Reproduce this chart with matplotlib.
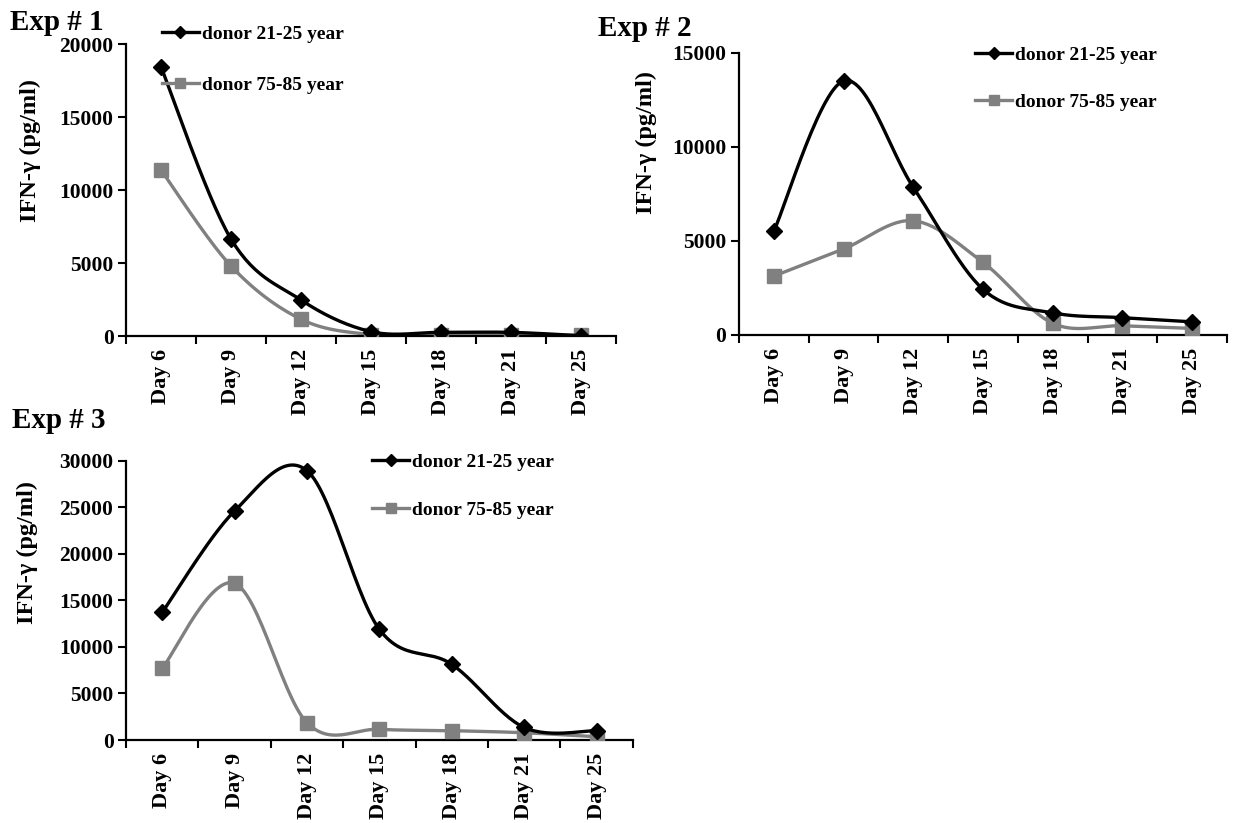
import numpy as np
import matplotlib
matplotlib.use("Agg")
import matplotlib.pyplot as plt

plt.rcParams['font.family'] = ['Liberation Serif', 'DejaVu Serif']
plt.rcParams['font.weight'] = 'bold'

days = ["Day 6", "Day 9", "Day 12", "Day 15", "Day 18", "Day 21", "Day 25"]

# IFN-gamma (pg/ml) per experiment
exp1_young = [18450, 6650, 2470, 300, 250, 250, 20]
exp1_old = [11380, 4800, 1150, 100, 100, 60, 40]

exp2_young = [5520, 13500, 7850, 2430, 1180, 920, 700]
exp2_old = [3130, 4570, 6070, 3860, 620, 490, 350]

exp3_young = [13710, 24600, 28930, 11890, 8130, 1350, 1000]
exp3_old = [7700, 16830, 1860, 1150, 1000, 780, 350]

young_label = "donor 21-25 year"
old_label = "donor 75-85 year"


def smooth_curve(y, steps=30):
    """Excel-style smoothed line: cubic Bezier segments through every point."""
    y = np.asarray(y, dtype=float)
    x = np.arange(len(y), dtype=float)
    px = np.concatenate([[x[0]], x, [x[-1]]])
    py = np.concatenate([[y[0]], y, [y[-1]]])
    t = np.linspace(0, 1, steps)
    xs, ys = [], []
    for i in range(len(y) - 1):
        p0x, p0y = px[i + 1], py[i + 1]
        p3x, p3y = px[i + 2], py[i + 2]
        c1x = p0x + (p3x - px[i]) / 6.0
        c1y = p0y + (p3y - py[i]) / 6.0
        c2x = p3x - (px[i + 3] - p0x) / 6.0
        c2y = p3y - (py[i + 3] - p0y) / 6.0
        b0 = (1 - t) ** 3
        b1 = 3 * (1 - t) ** 2 * t
        b2 = 3 * (1 - t) * t ** 2
        b3 = t ** 3
        xs.append(b0 * p0x + b1 * c1x + b2 * c2x + b3 * p3x)
        ys.append(b0 * p0y + b1 * c1y + b2 * c2y + b3 * p3y)
    return np.concatenate(xs), np.concatenate(ys)


def draw_panel(ax, young, old, ymax, step, legend_xy, spacing=1.55):
    x = np.arange(len(days))
    gray = "#808080"

    sx, sy = smooth_curve(old)
    ax.plot(sx, sy, color=gray, lw=2.4, zorder=2)
    ax.plot(x, old, ls="none", marker="s", ms=9.5, color=gray, zorder=3)
    sx, sy = smooth_curve(young)
    ax.plot(sx, sy, color="black", lw=2.4, zorder=4)
    ax.plot(x, young, ls="none", marker="D", ms=8, color="black", zorder=5)

    # legend proxies
    h1, = ax.plot([], [], color="black", lw=2.4, marker="D", ms=6.5)
    h2, = ax.plot([], [], color=gray, lw=2.4, marker="s", ms=7.5)
    ax.legend([h1, h2], [young_label, old_label], loc="upper left",
              bbox_to_anchor=legend_xy, frameon=False,
              handlelength=1.9, handletextpad=0.15, labelspacing=spacing,
              borderpad=0, borderaxespad=0, prop={'weight': 'bold', 'size': 14})

    ax.set_xlim(-0.5, len(days) - 0.5)
    ax.set_ylim(0, ymax)
    ax.set_yticks(np.arange(0, ymax + 1, step))
    ax.set_yticklabels([str(v) for v in np.arange(0, ymax + 1, step)])
    ax.set_xticks(x)
    ax.set_xticklabels(days, rotation=90)
    ax.set_xticks(np.arange(-0.5, len(days)), minor=True)
    ax.tick_params(axis="x", which="major", length=0, pad=9, labelsize=16)
    ax.tick_params(axis="x", which="minor", length=6, width=1.5, direction="out")
    ax.tick_params(axis="y", length=6, width=1.5, direction="out", labelsize=15.5, pad=3)
    for side in ("top", "right"):
        ax.spines[side].set_visible(False)
    for side in ("left", "bottom"):
        ax.spines[side].set_linewidth(1.6)
    ax.set_facecolor("none")


fig = plt.figure(figsize=(12.33, 8.23), dpi=100)
W, H = 1233.0, 823.0


def add_axes_px(left, top, right, bottom):
    return fig.add_axes([left / W, 1 - bottom / H, (right - left) / W, (bottom - top) / H])


ax1 = add_axes_px(126, 44.3, 616, 336)
draw_panel(ax1, exp1_young, exp1_old, 20000, 5000, (0.073, 1.064), spacing=1.72)

ax2 = add_axes_px(739, 52.7, 1227, 335)
draw_panel(ax2, exp2_young, exp2_old, 15000, 5000, (0.484, 1.024))

ax3 = add_axes_px(126, 460.7, 632.7, 740)
draw_panel(ax3, exp3_young, exp3_old, 30000, 5000, (0.486, 1.026))

# panel titles
fig.text(10 / W, 1 - 22 / H, "Exp # 1", fontsize=21, fontweight="bold", va="center", ha="left")
fig.text(598 / W, 1 - 28 / H, "Exp # 2", fontsize=21, fontweight="bold", va="center", ha="left")
fig.text(12 / W, 1 - 421 / H, "Exp # 3", fontsize=21, fontweight="bold", va="center", ha="left")

# y-axis titles
ylab = "IFN-\u03b3 (pg/ml)"
fig.text(30 / W, 1 - 150 / H, ylab, rotation=90, fontsize=17.5, fontweight="bold", va="center", ha="center")
fig.text(646 / W, 1 - 142 / H, ylab, rotation=90, fontsize=17.5, fontweight="bold", va="center", ha="center")
fig.text(27 / W, 1 - 553 / H, ylab, rotation=90, fontsize=17.5, fontweight="bold", va="center", ha="center")

fig.savefig("out.png", dpi=100)
